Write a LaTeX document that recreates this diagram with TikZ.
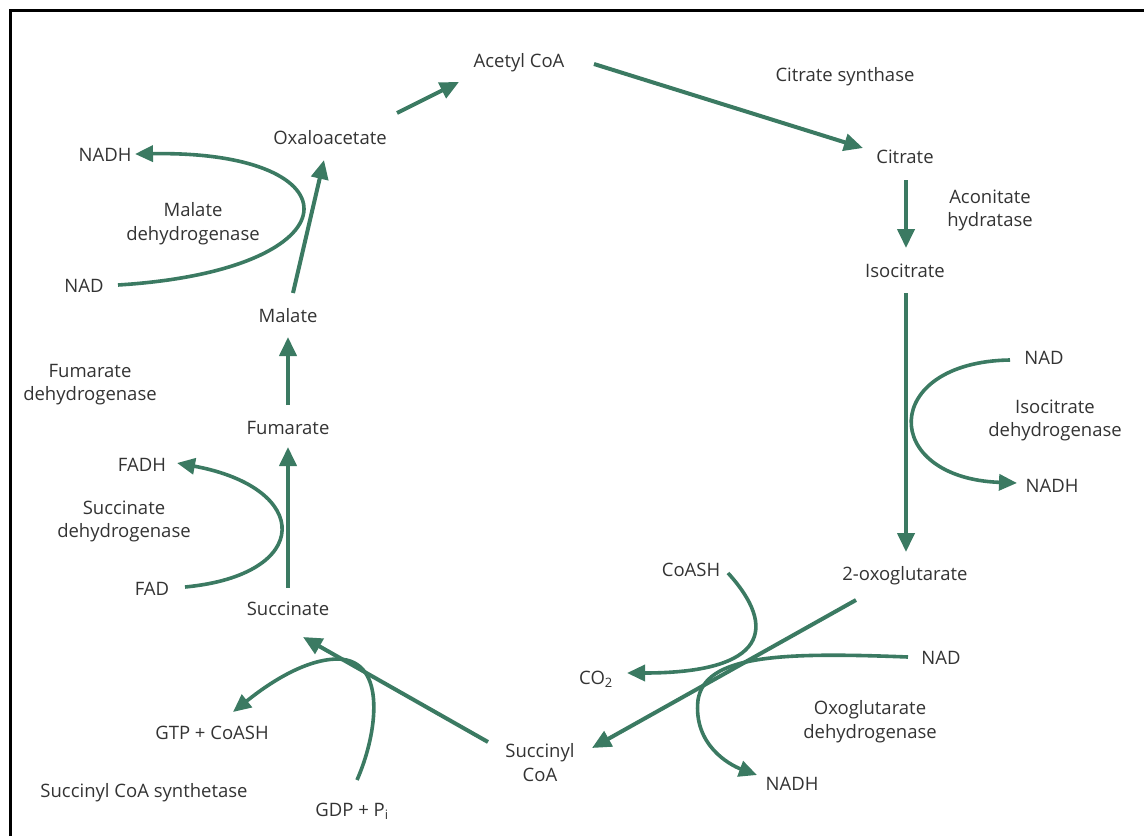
\documentclass[tikz,border=0pt]{standalone}
\usepackage{fontspec}
\setmainfont{Open Sans}
\usetikzlibrary{arrows.meta}
\definecolor{pathgreen}{RGB}{59,122,98}
\definecolor{labelgray}{RGB}{51,51,51}
\begin{document}
\begin{tikzpicture}[x=1pt,y=-1pt,
  lbl/.style={font=\fontsize{18.5}{23.5}\selectfont, text=labelgray, inner sep=0pt,
              text height=15.5pt, text depth=1pt},
  lbltwo/.style={font=\fontsize{18.5}{23.5}\selectfont, text=labelgray, inner sep=0pt, align=center},
  flow/.style={draw=pathgreen, line width=4pt, -{Triangle[length=19pt,width=17pt]}},
  side/.style={draw=pathgreen, line width=3.6pt, -{Triangle[length=18pt,width=16pt]}},
]
\useasboundingbox (0,0) rectangle (1144,836);
% frame
\draw[line width=3pt, line join=miter] (10,836) -- (10,10.5) -- (1144,10.5);

% metabolites and enzymes
\node[lbl] (acetyl) at (519,60) {Acetyl CoA};
\node[lbl] (citsyn) at (845,74) {Citrate synthase};
\node[lbl] (cit) at (905,156) {Citrate};
\node[lbltwo] (acon) at (990,210.5) {Aconitate\\hydratase};
\node[lbl] (iso) at (905,270) {Isocitrate};
\node[lbl] (nadR) at (1044,357) {NAD};
\node[lbltwo] (isodh) at (1055,420.5) {Isocitrate\\dehydrogenase};
\node[lbl] (nadhR) at (1052,485) {NADH};
\node[lbl] (oxo) at (905,573) {2-oxoglutarate};
\node[lbl] (coash) at (691,569) {CoASH};
\node[lbl] (nadB) at (941,657) {NAD};
\node[lbl] (co2) at (596,677) {CO\textsubscript{2}};
\node[lbltwo] (oxodh) at (870,721.5) {Oxoglutarate\\dehydrogenase};
\node[lbl] (nadhB) at (792,783) {NADH};
\node[lbltwo] (scoa) at (540,762.5) {Succinyl\\CoA};
\node[lbl] (gtp) at (212,732) {GTP + CoASH};
\node[lbl] (scs) at (144,790) {Succinyl CoA synthetase};
\node[lbl] (gdp) at (352,809) {GDP + P\textsubscript{i}};
\node[lbl] (succ) at (288,608) {Succinate};
\node[lbl] (fad) at (152,588) {FAD};
\node[lbltwo] (sdh) at (124,521.5) {Succinate\\dehydrogenase};
\node[lbl] (fadh) at (142,464) {FADH};
\node[lbl] (fum) at (288,427) {Fumarate};
\node[lbltwo] (fdh) at (90,384.5) {Fumarate\\dehydrogenase};
\node[lbl] (mal) at (288,315) {Malate};
\node[lbl] (nadL) at (84,285) {NAD};
\node[lbltwo] (mdh) at (193,223.5) {Malate\\dehydrogenase};
\node[lbl] (nadhL) at (105,154) {NADH};
\node[lbl] (oxa) at (330,137) {Oxaloacetate};

% main cycle
\draw[flow] ([shift={(67,-24)}]oxa.center) -- ([shift={(-60,22)}]acetyl.center);
\draw[flow] ([shift={(75,4)}]acetyl.center) -- ([shift={(-42,-8)}]cit.center);
\draw[flow] ([shift={(1,24)}]cit.center) -- ([shift={(1,-22)}]iso.center);
\draw[flow] ([shift={(1,23)}]iso.center) -- ([shift={(1,-21)}]oxo.center);
\draw[flow] ([shift={(-49,27)}]oxo.center) -- ([shift={(52,-14.5)}]scoa.center);
\draw[flow] ([shift={(-52,-20.5)}]scoa.center) -- ([shift={(15,29)}]succ.center);
\draw[flow] ([shift={(0,-20)}]succ.center) -- ([shift={(0,20)}]fum.center);
\draw[flow] ([shift={(0,-22)}]fum.center) -- ([shift={(0,22)}]mal.center);
\draw[flow] ([shift={(5,-22)}]mal.center) -- ([shift={(-6,23)}]oxa.center);

% cofactor side reactions
\draw[side] ([shift={(-34,3)}]nadR.center) .. controls +(-130,2) and +(-137,-5) .. ([shift={(-35,-2)}]nadhR.center);
\draw[side] ([shift={(37,4)}]coash.center) .. controls +(50,55) and +(140,0) .. ([shift={(31,-4)}]co2.center);
\draw[side] ([shift={(-33,0)}]nadB.center) .. controls (780,652) and (705,655) .. (698,700)
            .. controls (693,745) and (730,765) .. ([shift={(-35,-8)}]nadhB.center);
\draw[side] ([shift={(5,-29)}]gdp.center) .. controls (377,735) and (388,660) .. (338,659)
            .. controls (300,659) and (258,692) .. ([shift={(21,-20)}]gtp.center);
\draw[side] ([shift={(33,-1)}]fad.center) .. controls +(128,-12) and +(136,25) .. ([shift={(35,-1)}]fadh.center);
\draw[side] ([shift={(34,0)}]nadL.center) .. controls +(242,-15) and +(225,-4) .. ([shift={(30,0)}]nadhL.center);
\end{tikzpicture}
\end{document}
